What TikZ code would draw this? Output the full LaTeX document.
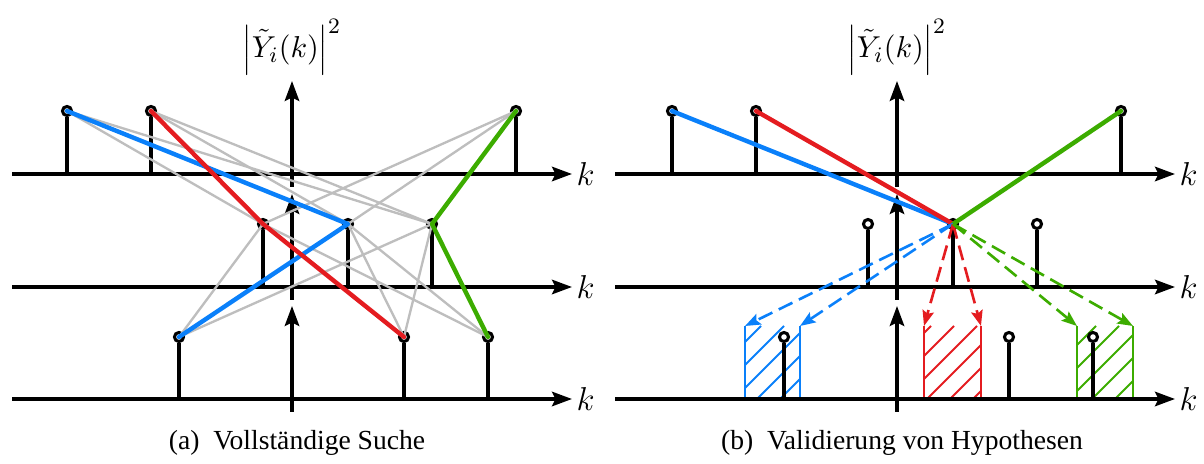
\documentclass[tikz,border=0pt]{standalone}
\usepackage[no-math]{fontspec}
\setmainfont{Liberation Serif}
\usetikzlibrary{arrows.meta}
\definecolor{myblue}{RGB}{10,128,250}
\definecolor{myred}{RGB}{228,28,32}
\definecolor{mygreen}{RGB}{60,172,0}
\definecolor{mygray}{RGB}{190,190,190}
\begin{document}
\begin{tikzpicture}[x=0.3623pt,y=-0.3623pt,
  axis/.style={line width=1.25pt,-{Stealth[length=7.2pt,width=5.2pt,inset=1.2pt]}},
  stemline/.style={line width=1.15pt},
  dot/.style={circle,draw=black,line width=1.1pt,fill=white,minimum size=3.3pt,inner sep=0pt},
  grayline/.style={draw=mygray,line width=0.85pt},
  hypo/.style={line width=1.6pt,line join=round,line cap=round},
  dashline/.style={line width=0.95pt,dash pattern=on 5.5pt off 2.6pt,-{Stealth[length=5.6pt,width=4.2pt,inset=1pt]}},
  hatchline/.style={line width=0.65pt},
  boxside/.style={line width=0.9pt},
  klabel/.style={right,inner sep=1.5pt,font=\large},
  ylabel/.style={above,inner sep=2pt,font=\fontsize{11}{13}\selectfont},
  caption/.style={font=\fontsize{10}{12}\selectfont}]
\useasboundingbox (0,0) rectangle (1204,464);

% hatched hypothesis boxes (right panel)
\begin{scope}
\clip (745,326) rectangle (800,399);
\foreach \c in {1064,1087,...,1202} \draw[hatchline,myblue] ({\c-399},399) -- ({\c-326},326);
\end{scope}
\begin{scope}
\clip (924,326) rectangle (981,399);
\foreach \c in {1234,1257,...,1395} \draw[hatchline,myred] ({\c-399},399) -- ({\c-326},326);
\end{scope}
\begin{scope}
\clip (1077,326) rectangle (1133,399);
\foreach \c in {1399,1422,...,1540} \draw[hatchline,mygreen] ({\c-399},399) -- ({\c-326},326);
\end{scope}
\coordinate (hb1) at (745,326); \coordinate (hb2) at (800,326);
\coordinate (hr1) at (924,326); \coordinate (hr2) at (981,326);
\coordinate (hg1) at (1077,326); \coordinate (hg2) at (1133,326);
\coordinate (hb1e) at (745,399); \coordinate (hb2e) at (800,399);
\coordinate (hr1e) at (924,399); \coordinate (hr2e) at (981,399);
\coordinate (hg1e) at (1077,399); \coordinate (hg2e) at (1133,399);
\draw[boxside,myblue] (hb1) -- (hb1e) (hb2) -- (hb2e);
\draw[boxside,myred] (hr1) -- (hr1e) (hr2) -- (hr2e);
\draw[boxside,mygreen] (hg1) -- (hg1e) (hg2) -- (hg2e);

% axes
\foreach \p/\xs/\xe/\xv in {L/12/572/292, R/615/1175/897}{
  \foreach \l/\yy in {1/174, 2/287, 3/399}{
    \coordinate (A\l\p) at (\xs,\yy);
    \coordinate (E\l\p) at (\xe,\yy);
    \coordinate (V\l\p) at (\xv,\yy+13);
    \coordinate (W\l\p) at (\xv,\yy-93);
    \draw[axis] (A\l\p) -- (E\l\p);
    \draw[axis] (V\l\p) -- (W\l\p);
    \node[klabel] (k\l\p) at (E\l\p) {$k$};
  }
}
\node[ylabel] (yl) at (W1L) {$\left|\tilde{Y}_i(k)\right|^2$};
\node[ylabel] (yr) at (W1R) {$\left|\tilde{Y}_i(k)\right|^2$};

% sample points
\foreach \n/\x/\y in {T1/67/111, T2/151/111, T3/516/111,
                      M1/263/224, M2/348/224, M3/432/224,
                      B1/179/337, B2/404/337, B3/488/337,
                      T4/672/111, T5/756/111, T6/1121/111,
                      M4/868/224, M5/953/224, M6/1037/224,
                      B4/784/337, B5/1009/337, B6/1093/337}
  \node[dot] (\n) at (\x,\y) {};
\foreach \n/\a in {T1/A1L, T2/A1L, T3/A1L, M1/A2L, M2/A2L, M3/A2L, B1/A3L, B2/A3L, B3/A3L,
                   T4/A1R, T5/A1R, T6/A1R, M4/A2R, M5/A2R, M6/A2R, B4/A3R, B5/A3R, B6/A3R}
  \draw[stemline] (\n) -- (\n |- \a);

% full search: gray candidate connections
\foreach \a/\b in {T1/M1, T1/M3, T2/M2, T2/M3, T3/M1, T3/M2,
                   M1/B1, M1/B3, M2/B2, M2/B3, M3/B1, M3/B2}
  \draw[grayline] (\a.center) -- (\b.center);

% hypotheses (left)
\draw[hypo,myblue] (T1.center) -- (M2.center) -- (B1.center);
\draw[hypo,myred] (T2.center) -- (M1.center) -- (B2.center);
\draw[hypo,mygreen] (T3.center) -- (M3.center) -- (B3.center);

% hypotheses (right)
\draw[hypo,myblue] (T4.center) -- (M5.center);
\draw[hypo,myred] (T5.center) -- (M5.center);
\draw[hypo,mygreen] (T6.center) -- (M5.center);
\draw[dashline,myblue] (M5.center) -- (hb1);
\draw[dashline,myblue] (M5.center) -- (hb2);
\draw[dashline,myred] (M5.center) -- (hr1);
\draw[dashline,myred] (M5.center) -- (hr2);
\draw[dashline,mygreen] (M5.center) -- (hg1);
\draw[dashline,mygreen] (M5.center) -- (hg2);

% captions
\node[caption] (capa) at (297,443) {(a)\enskip Vollständige Suche};
\node[caption] (capb) at (902,443) {(b)\enskip Validierung von Hypothesen};
\end{tikzpicture}
\end{document}
